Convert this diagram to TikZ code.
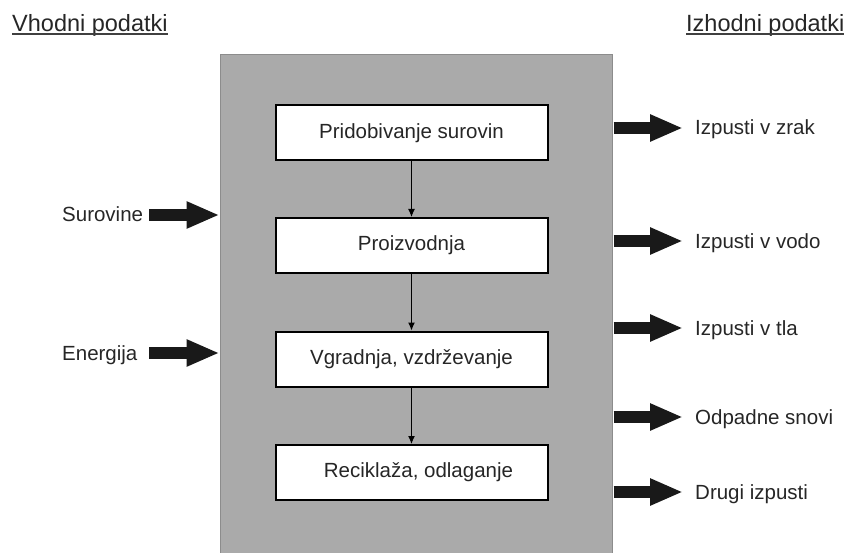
\documentclass[tikz,border=0pt]{standalone}
\usepackage{fontspec}
\setmainfont{Liberation Sans}
\usetikzlibrary{arrows.meta}
\definecolor{panelgray}{HTML}{AAAAAA}
\definecolor{paneledge}{HTML}{8C8C8C}
\begin{document}
\begin{tikzpicture}[x=1pt,y=-1pt,
  panel/.style={draw=paneledge, line width=1pt, fill=panelgray, minimum width=392pt, minimum height=505pt, inner sep=0},
  stage/.style={draw=black, line width=2pt, fill=white, minimum width=272pt, minimum height=55pt, inner sep=0, font=\fontsize{20.5}{24}\selectfont, text=black!85},
  lbl/.style={inner sep=0, font=\fontsize{20.5}{24}\selectfont, text=black!85},
  hdr/.style={inner sep=0, font=\fontsize{23.5}{28}\selectfont, text=black!85},
  fat/.style={line width=12pt, black!90, -{Triangle[length=33pt,width=25pt]}},
  flow/.style={line width=1pt, black, -{Latex[length=8pt,width=7pt]}},
  uline/.style={line width=1.4pt, black!75}]
\useasboundingbox (0,0) rectangle (853,553);

% grey panel
\node[panel] (panel) at (416,307.5) {};

% stages
\node[stage] (s1) at (411.5,133) {Pridobivanje surovin};
\node[stage] (s2) at (411.5,245.5) {Proizvodnja};
\node[stage] (s3) at (411.5,359) {Vgradnja, vzdrževanje};
\node[stage] (s4) at (411.5,472.5) {\hspace*{14pt}Reciklaža, odlaganje};

\draw[flow] (s1) -- (s2);
\draw[flow] (s2) -- (s3);
\draw[flow] (s3) -- (s4);

% headers
\node[hdr, anchor=base west] (hin) at (12,32) {Vhodni podatki};
\node[hdr, anchor=base west] (hout) at (686,32) {Izhodni podatki};
\draw[uline] ([yshift=-2pt]hin.base west) -- ([yshift=-2pt]hin.base east);
\draw[uline] ([yshift=-2pt]hout.base west) -- ([yshift=-2pt]hout.base east);

% inputs
\node[lbl, anchor=base west] (sur) at (62,222) {Surovine};
\node[lbl, anchor=base west] (ene) at (62,360) {Energija};
\coordinate (i1) at (149,215);
\coordinate (i2) at (149,353);
\draw[fat] (i1) -- (i1 -| panel.west);
\draw[fat] (i2) -- (i2 -| panel.west);

% outputs
\node[lbl, anchor=base west] (o1) at (695,135) {Izpusti v zrak};
\node[lbl, anchor=base west] (o2) at (695,248) {Izpusti v vodo};
\node[lbl, anchor=base west] (o3) at (695,335) {Izpusti v tla};
\node[lbl, anchor=base west] (o4) at (695,424) {Odpadne snovi};
\node[lbl, anchor=base west] (o5) at (695,499) {Drugi izpusti};
\coordinate (e1) at (683,128);
\coordinate (e2) at (683,241);
\coordinate (e3) at (683,328);
\coordinate (e4) at (683,417);
\coordinate (e5) at (683,492);
\foreach \e in {e1,e2,e3,e4,e5}
  \draw[fat] ([xshift=1pt]\e -| panel.east) -- (\e);
\end{tikzpicture}
\end{document}
